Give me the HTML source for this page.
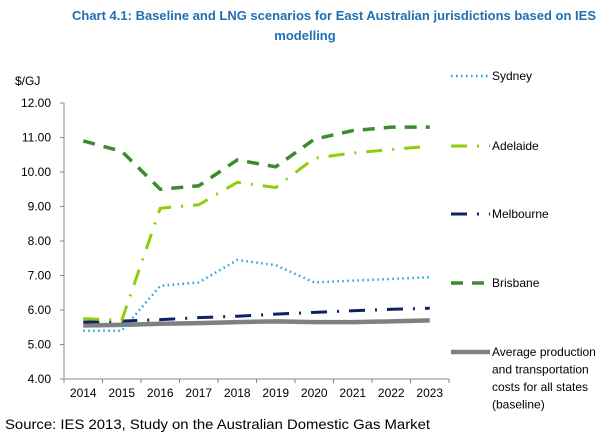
<!DOCTYPE html>
<html><head><meta charset="utf-8"><style>
body{margin:0;background:#fff;font-family:"Liberation Sans",Arial,sans-serif}
svg text{font-family:"Liberation Sans",Arial,sans-serif}
</style></head><body>
<svg id="c" width="611" height="438" xmlns="http://www.w3.org/2000/svg">
<text x="334" y="20" text-anchor="middle" font-size="13" font-weight="bold" fill="#1f6fb5">Chart 4.1: Baseline and LNG scenarios for East Australian jurisdictions based on IES</text>
<text x="305" y="40" text-anchor="middle" font-size="13" font-weight="bold" fill="#1f6fb5">modelling</text>
<text x="15" y="85" font-size="12" fill="#000">$/GJ</text>
<text x="5" y="429" font-size="14" textLength="425" lengthAdjust="spacingAndGlyphs" fill="#000">Source: IES 2013, Study on the Australian Domestic Gas Market</text>
<g id="axes"></g><g id="series"></g><g id="legend"></g>
</svg>
<script>
const years=["2014","2015","2016","2017","2018","2019","2020","2021","2022","2023"];
const yTicks=[4,5,6,7,8,9,10,11,12];
const sydney=[5.4,5.4,6.7,6.8,7.45,7.3,6.8,6.85,6.9,6.95];
const adelaide=[5.75,5.7,8.95,9.05,9.7,9.55,10.4,10.55,10.65,10.75];
const melbourne=[5.65,5.68,5.72,5.78,5.82,5.88,5.93,5.98,6.02,6.05];
const brisbane=[10.9,10.6,9.5,9.6,10.35,10.15,10.95,11.2,11.3,11.3];
const average=[5.55,5.57,5.6,5.62,5.65,5.67,5.65,5.65,5.67,5.7];
const NS="http://www.w3.org/2000/svg";
const x0=64,x1=449,yTop=103,yBot=379;
const step=(x1-x0)/years.length;
const X=i=>x0+step*(i+0.5);
const Y=v=>yBot-(v-4)/(12-4)*(yBot-yTop);
function mk(t,a,p){const e=document.createElementNS(NS,t);for(const k in a)e.setAttribute(k,a[k]);p.appendChild(e);return e;}
const ax=document.getElementById('axes');
const ya=mk('line',{x1:x0,y1:yTop,x2:x0,y2:yBot,stroke:'#888','stroke-width':1},ax);


const xa=mk('line',{x1:x0,y1:yBot,x2:x1,y2:yBot,stroke:'#888','stroke-width':1},ax);


yTicks.forEach(v=>{
 mk('line',{x1:x0-4,y1:Y(v),x2:x0,y2:Y(v),stroke:'#888'},ax);
 const t=mk('text',{x:x0-13,y:Y(v)+4,'text-anchor':'end','font-size':12},ax);
 t.textContent=v.toFixed(2);
 
 
});
for(let i=0;i<=years.length;i++)mk('line',{x1:x0+step*i,y1:yBot,x2:x0+step*i,y2:yBot+4,stroke:'#888'},ax);
years.forEach((y,i)=>{
 const t=mk('text',{x:X(i),y:yBot+18,'text-anchor':'middle','font-size':12},ax);
 t.textContent=y;
 
 
});
const defs=[
 {d:average,c:'#808080',w:4.5,da:'',n:'average',label:['Average production','and transportation','costs for all states','(baseline)'],ly:352},
 {d:sydney,c:'#1aa3e0',w:2.5,da:'1.5 3.5',n:'sydney',label:['Sydney'],ly:76},
 {d:melbourne,c:'#0c2461',w:3,da:'16 10 2 10',n:'melbourne',label:['Melbourne'],ly:214},
 {d:adelaide,c:'#8ccf0a',w:3,da:'16 10 2 10',n:'adelaide',label:['Adelaide'],ly:146},
 {d:brisbane,c:'#3d8b2f',w:3.5,da:'12 9',n:'brisbane',label:['Brisbane'],ly:283}
];
const sg=document.getElementById('series'),lg=document.getElementById('legend');
defs.forEach(s=>{
 const p=mk('polyline',{points:s.d.map((v,i)=>X(i)+','+Y(v)).join(' '),fill:'none',stroke:s.c,'stroke-width':s.w,'stroke-dasharray':s.da,'stroke-linecap':'butt','stroke-linejoin':'round'},sg);
 
 
 const l=mk('line',{x1:451,y1:s.ly,x2:490,y2:s.ly,stroke:s.c,'stroke-width':s.w,'stroke-dasharray':s.da},lg);
 
 
 s.label.forEach((tx,k)=>{
  const t=mk('text',{x:492,y:s.ly+4+k*17.5,'font-size':12},lg);
  t.textContent=tx;
  
  
 });
});
</script>
</body></html>
